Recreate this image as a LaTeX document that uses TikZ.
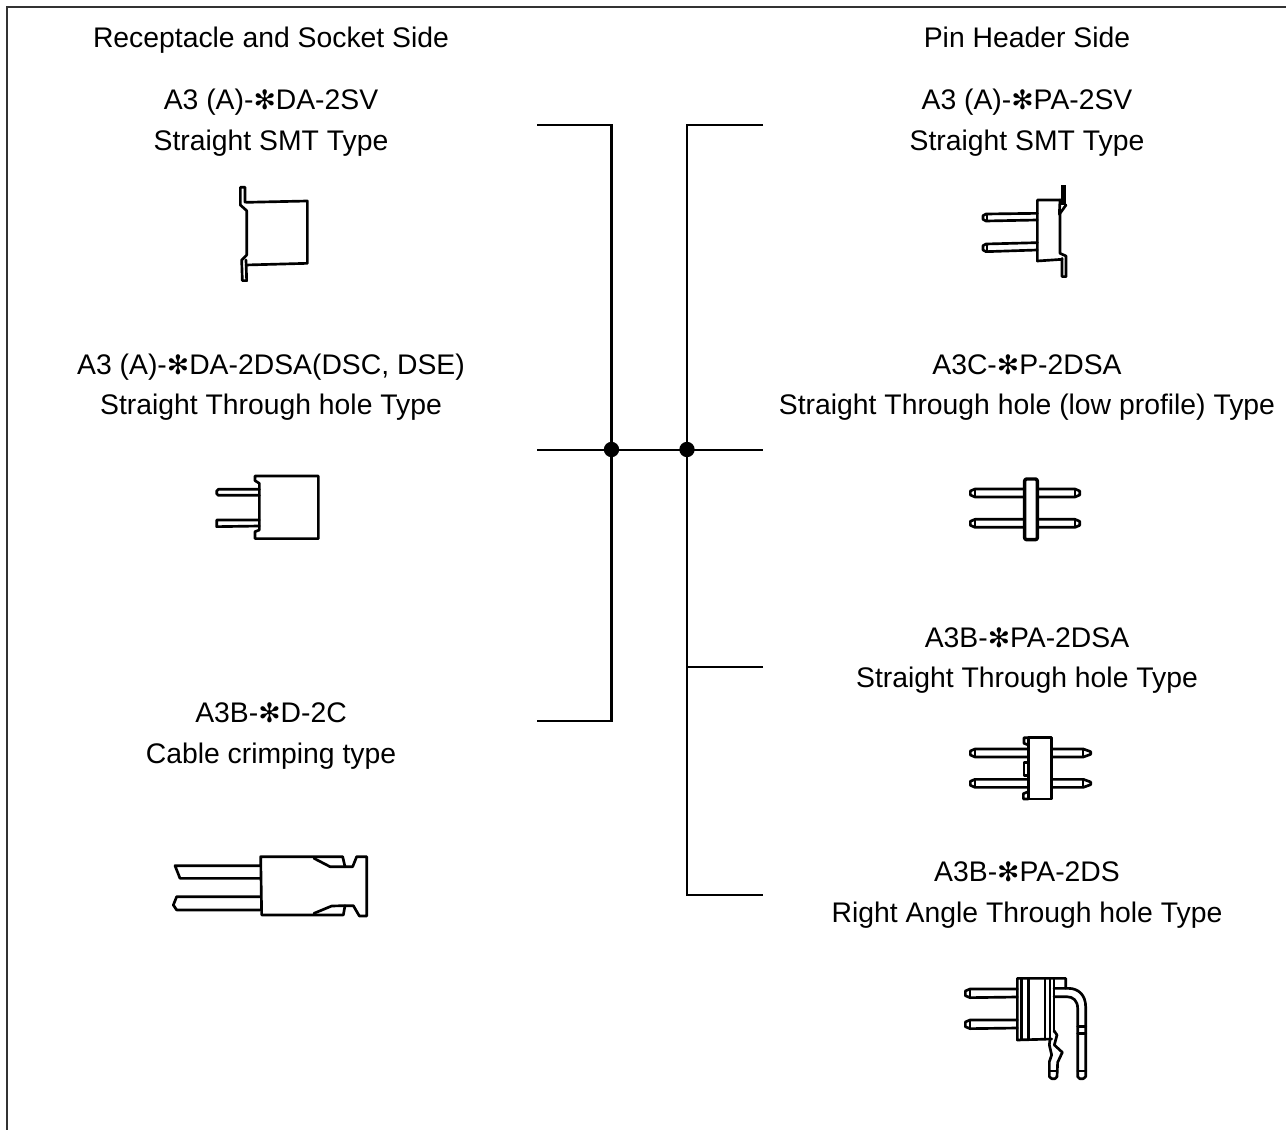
\documentclass[tikz,border=0pt]{standalone}
\usepackage{fontspec}
\setmainfont{Liberation Sans}
\newfontfamily\symfont{DejaVu Sans}
\newcommand{\st}{{\symfont\fontsize{20pt}{20pt}\selectfont ✻}}
\tikzset{
  lbl/.style={anchor=base,inner sep=0pt,font=\fontsize{21.25pt}{25pt}\selectfont},
  wire/.style={line width=2.2pt,line join=miter},
  art/.style={line width=2pt,line join=round,line cap=round},
  thin art/.style={line width=1.3pt,line join=round,line cap=round},
  junction/.style={circle,fill=black,inner sep=0pt,minimum size=11.5pt},
  zoomA/.style={x=.25pt,y=-.25pt}
}
\begin{document}
\begin{tikzpicture}[x=.75pt,y=-.75pt]
\useasboundingbox (0,0) rectangle (1286,1130);
\fill[white] (0,0) rectangle (1286,1130);
\draw[line width=.8pt,black!80] (7,1130) -- (7,7) -- (1286,7);
% texts
\node[lbl] (t1) at (271,48) {Receptacle and Socket Side};
\node[lbl] (t2) at (1027,48) {Pin Header Side};
\node[lbl] (t3) at (271,110) {A3 (A)-\st DA-2SV};
\node[lbl] (t4) at (271,151) {Straight SMT Type};
\node[lbl] (t5) at (271,375) {A3 (A)-\st DA-2DSA(DSC, DSE)};
\node[lbl] (t6) at (271,415) {Straight Through hole Type};
\node[lbl] (t7) at (271,722) {A3B-\st D-2C};
\node[lbl] (t8) at (271,763) {Cable crimping type};
\node[lbl] (t9) at (1027,110) {A3 (A)-\st PA-2SV};
\node[lbl] (t10) at (1027,151) {Straight SMT Type};
\node[lbl] (t11) at (1027,375) {A3C-\st P-2DSA};
\node[lbl] (t12) at (1027,415) {Straight Through hole (low profile) Type};
\node[lbl] (t13) at (1027,647) {A3B-\st PA-2DSA};
\node[lbl] (t14) at (1027,687) {Straight Through hole Type};
\node[lbl] (t15) at (1027,881) {A3B-\st PA-2DS};
\node[lbl] (t16) at (1027,922) {Right Angle Through hole Type};
% connectors
\coordinate (la) at (537,125);
\coordinate (lb) at (537,450);
\coordinate (lc) at (537,721);
\coordinate (ra) at (763,125);
\coordinate (rb) at (763,450);
\coordinate (rc) at (763,667);
\coordinate (rd) at (763,895);
\node[junction] (j1) at (611.5,449.5) {};
\node[junction] (j2) at (687,449.5) {};
\draw[wire] (la) -| (j1.center) |- (lc);
\draw[wire] (lb) -- (rb);
\draw[wire] (ra) -| (j2.center) |- (rd);
\draw[wire] (rc) -- (687,667);
% A3-DA-2SV
\begin{scope}[shift={(200,170)},zoomA]
\draw[art] (138,97) -- (322,93) -- (322,280) -- (138,285);
\draw[art] (135,97) -- (135,52) -- (121,52) -- (121,105) -- (140,122) -- (140,255) -- (125,270) -- (127,332) -- (140,332) -- (138,270);
\end{scope}
% A3-PA-2SV
\begin{scope}[shift={(960,170)},zoomA]
\draw[art] (302,90) -- (232,90) -- (232,273) -- (306,268);
\fill (303,45) rectangle (318,105);
\draw[art] (318,105) -- (298,133) -- (300,90);
\draw[art] (300,133) -- (300,250) -- (318,258) -- (318,320) -- (306,320) -- (306,265);
\draw[art] (232,130) -- (78,132) -- (69,137) -- (69,148) -- (78,153) -- (232,150);
\draw[art] (232,218) -- (78,222) -- (69,227) -- (69,240) -- (78,245) -- (232,240);
\draw[thin art] (80,132) -- (80,153) (80,222) -- (80,245);
\end{scope}
% A3-DA-2DSA
\begin{scope}[shift={(200,460)},zoomA]
\draw[art] (165,48) -- (355,48) -- (355,236) -- (165,236) -- (165,215) -- (178,210) -- (178,70) -- (165,62) -- cycle;
\draw[art] (178,88) -- (55,88) -- (50,93) -- (50,101) -- (55,106) -- (178,106);
\draw[art] (178,180) -- (50,180) -- (50,200) -- (178,198);
\end{scope}
% A3C-P-2DSA
\begin{scope}[shift={(960,465)},zoomA]
\draw[art,line width=2.6pt,rounded corners=1.5pt] (194,42) -- (232,42) -- (232,224) -- (194,224) -- cycle;
\foreach \y in {72,163}{
 \draw[art] (193,\y) -- (45,\y) -- (31,\y+6) -- (31,\y+18) -- (45,\y+24) -- (193,\y+24);
 \draw[art] (232,\y) -- (345,\y) -- (359,\y+6) -- (359,\y+18) -- (345,\y+24) -- (232,\y+24);
 \draw[thin art] (45,\y) -- (45,\y+24) (345,\y) -- (345,\y+24);
}
\end{scope}
% A3B-PA-2DSA
\begin{scope}[shift={(960,725)},zoomA]
\draw[art] (205,38) -- (275,38) -- (275,222) -- (205,222) -- cycle;
\draw[art] (205,38) -- (192,38) -- (192,55) -- (205,60);
\draw[art] (205,222) -- (190,222) -- (190,206) -- (205,200);
\draw[art] (192,112) -- (205,112) -- (205,152) -- (192,152) -- cycle;
\foreach \y in {72,163}{
 \draw[art] (200,\y) -- (45,\y) -- (31,\y+6) -- (31,\y+18) -- (45,\y+24) -- (200,\y+24);
 \draw[art] (275,\y) -- (370,\y) -- (392,\y+8) -- (392,\y+16) -- (370,\y+24) -- (275,\y+24);
 \draw[thin art] (45,\y) -- (45,\y+24) (370,\y) -- (370,\y+24);
}
\end{scope}
% A3B-D-2C
\begin{scope}[shift={(160,845)},zoomA]
\draw[art] (300,62) -- (45,62) -- (60,100) -- (300,100);
\draw[art] (300,155) -- (50,155) -- (40,180) -- (50,195) -- (300,195);
\draw[art] (302,35) -- (548,35) -- (555,65) -- (578,65) -- (590,35) -- (620,35) -- (620,213) -- (598,213) -- (580,182) -- (555,182) -- (550,210) -- (305,210) -- cycle;
\draw[art] (462,40) -- (510,65) -- (555,65);
\draw[art] (462,205) -- (515,183) -- (555,182);
\end{scope}
% A3B-PA-2DS
\begin{scope}[shift={(955,965)},zoomA]
\draw[art] (332,70) -- (332,40) -- (187,40) -- (187,225) -- (290,222);
\draw[art] (200,40) -- (200,222) (220,40) -- (220,222) (270,40) -- (270,222);
\draw[art] (285,40) -- (285,222) (297,40) -- (297,200);
\foreach \y in {72,165}{
 \draw[art] (187,\y) -- (45,\y) -- (31,\y+6) -- (31,\y+20) -- (45,\y+26) -- (187,\y+24);
 \draw[thin art] (45,\y) -- (45,\y+26);
}
\draw[art] (297,70) -- (340,70) .. controls (372,70) and (392,92) .. (392,125) -- (392,335) -- (385,341) -- (374,341) -- (368,335) -- (368,130) .. controls (368,108) and (355,95) .. (335,95) -- (297,95);
\draw[art] (368,185) -- (392,185) (368,205) -- (392,205) (368,318) -- (392,318);
\draw[art] (297,197) -- (306,210) -- (298,240) -- (322,262) -- (308,292) -- (306,335) -- (300,341) -- (290,341) -- (283,335) -- (283,290) -- (290,270) -- (283,240) -- (285,222);
\draw[art] (283,318) -- (306,318);
\end{scope}
\end{tikzpicture}
\end{document}
